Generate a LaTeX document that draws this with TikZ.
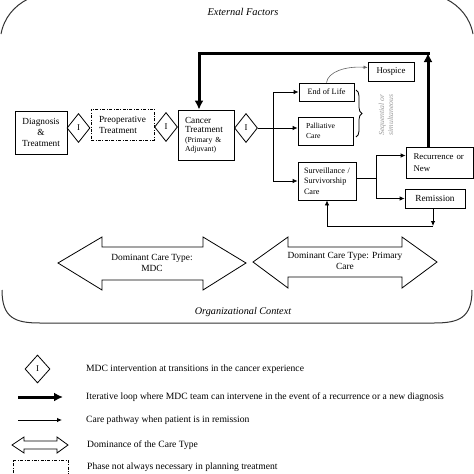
\documentclass[tikz,border=0pt]{standalone}
\usepackage{fontspec}
\setmainfont{Liberation Serif}
\usetikzlibrary{shapes.geometric,arrows.meta,decorations.pathreplacing}
\newcommand{\smtxt}{\fontsize{7.7}{9.5}\selectfont}

\begin{document}
\begin{tikzpicture}[x=1pt,y=-1pt]
\tikzstyle{box}=[draw, line width=0.8pt, inner sep=0pt, font=\fontsize{9.3}{11}\selectfont]
\tikzstyle{inter}=[diamond, draw, line width=0.8pt, minimum width=23pt, minimum height=29pt, inner sep=0pt, font=\fontsize{8.8}{9}\selectfont]
\tikzstyle{phase}=[box, dash pattern=on 3pt off 1.5pt on 0.8pt off 1.5pt]
\tikzstyle{pathway}=[line width=0.8pt, -{Latex[length=5pt,width=4.5pt]}]
\tikzstyle{iterloop}=[line width=3pt, -{Latex[length=9pt,width=9pt]}]
\tikzstyle{care}=[draw, line width=0.8pt, line join=miter]
\tikzstyle{frame}=[draw=black!80, line width=1pt]
\tikzstyle{legtext}=[anchor=west, inner sep=0pt, font=\fontsize{9.6}{11}\selectfont]

\useasboundingbox (0,0) rectangle (474,474);

\node[font=\itshape\fontsize{10.4}{12}\selectfont] (ext) at (243,12) {External Factors};
\node[font=\itshape\fontsize{10.2}{12}\selectfont] (org) at (243,312) {Organizational Context};
\draw[frame] (1,34) .. controls (4,18) and (14,6) .. (28,-1);
\draw[frame] (473,34) .. controls (470,18) and (460,6) .. (446,-1);
\draw[frame] (2,290) .. controls (2,318) and (15,323) .. (40,323) -- (434,323) .. controls (459,323) and (472,318) .. (472,290);

\node[box, minimum width=52pt, minimum height=43pt, align=center] (diag) at (41,132.5) {Diagnosis\\\&\\Treatment};
\node[inter] (i1) at (78.5,128) {I};
\node[phase, minimum width=63pt, minimum height=31pt, text width=47pt, align=left] (pre) at (122.5,124.5) {Preoperative\\Treatment};
\node[inter] (i2) at (166,127) {I};
\node[box, minimum width=56pt, minimum height=50pt, text width=42pt, align=left, font=\fontsize{9.3}{9.5}\selectfont] (ct) at (206,135) {Cancer\\Treatment\\{\smtxt(Primary \&}\\{\smtxt Adjuvant)}};
\node[inter] (i3) at (246,128) {I};
\node[box, minimum width=55pt, minimum height=18pt, font=\fontsize{8.2}{9}\selectfont] (eol) at (326.5,92) {End of Life};
\node[box, minimum width=55pt, minimum height=28pt, text width=39pt, align=left, font=\fontsize{7.7}{10.5}\selectfont] (pal) at (325.5,131) {Palliative\\Care};
\node[box, minimum width=58pt, minimum height=38pt, text width=46pt, align=left, font=\fontsize{8.2}{10.5}\selectfont] (surv) at (327,181) {Surveillance /\\Survivorship\\Care};
\node[box, minimum width=46pt, minimum height=19pt, font=\fontsize{8.8}{9}\selectfont] (hosp) at (391,71.5) {Hospice};
\node[box, minimum width=67pt, minimum height=31pt, text width=52pt, align=left, font=\fontsize{8.8}{11.5}\selectfont] (rec) at (439.5,162.5) {Recurrence or\\New};
\node[box, minimum width=60pt, minimum height=19pt, font=\fontsize{9.3}{10}\selectfont] (rem) at (435,198.5) {Remission};
\node[rotate=90, text=black!40, align=center, font=\itshape\fontsize{7.7}{9}\selectfont] (seq) at (386,115) {Sequential or\\simultaneous};

\coordinate (br) at (273,128);
\coordinate (sp) at (376,178);
\coordinate (lt) at (199,53);
\coordinate (rt) at (428,53);
\coordinate (rb) at (433,226);
\coordinate (lb) at (327,226);

\draw[pathway] (i3.east) -- (i3.east -| pal.west);
\draw[pathway] (br) |- (eol.west);
\draw[pathway] (br) |- (surv.west);
\draw[line width=0.8pt] (surv.east |- sp) -- (sp);
\draw[pathway] (sp) |- ([yshift=7pt]rec.west);
\draw[pathway] (sp) |- (rem.west);
\draw[black!60, line width=0.6pt, -{Latex[length=4pt,width=3.5pt]}] (eol.north) .. controls (328,72) and (345,66) .. ([yshift=4pt]hosp.west);
\draw[line width=0.8pt, decorate, decoration={brace, amplitude=6pt}] (356,90) -- (356,137);
\draw[iterloop] (rt |- rec.north) -- (rt);
\draw[iterloop] ([xshift=1.5pt]rt) -- (lt) -- (lt |- ct.north);
\draw[pathway] (rb |- rem.south) -- (rb);
\draw[pathway] (rb) -- (lb) -- (lb |- surv.south);

\draw[care] (58,263) -- (102,237) -- (102,247) -- (203,247) -- (203,237) -- (246,263) -- (203,290) -- (203,280) -- (102,280) -- (102,290) -- cycle;
\node[font=\fontsize{9.4}{11.5}\selectfont, align=center] (mdc) at (152,263) {Dominant Care Type:\\MDC};
\draw[care] (253,262) -- (288,237) -- (288,247) -- (402,247) -- (402,237) -- (437,262) -- (402,288) -- (402,277) -- (288,277) -- (288,288) -- cycle;
\node[font=\fontsize{9.4}{11.5}\selectfont, align=center] (prim) at (345,261) {Dominant Care Type: Primary\\Care};

\node[inter, minimum width=25pt, minimum height=28pt] (li) at (37.5,369) {I};
\node[legtext] (t1) at (86,369) {MDC intervention at transitions in the cancer experience};
\coordinate (ka) at (18,397);
\coordinate (kb) at (63,397);
\draw[iterloop] (ka) -- (kb);
\node[legtext] (t2) at (86,397) {Iterative loop where MDC team can intervene in the event of a recurrence or a new diagnosis};
\coordinate (kc) at (18,420);
\coordinate (kd) at (62,420);
\draw[pathway] (kc) -- (kd);
\node[legtext] (t3) at (86,420) {Care pathway when patient is in remission};
\draw[care] (12,445) -- (24,437) -- (24,441) -- (57,441) -- (57,437) -- (68,445) -- (57,453) -- (57,449) -- (24,449) -- (24,453) -- cycle;
\node[legtext] (t4) at (87,445) {Dominance of the Care Type};
\draw[phase] (13,480) -- (13,460) -- (68,460) -- (68,480);
\node[legtext] (t5) at (87,467) {Phase not always necessary in planning treatment};
\end{tikzpicture}
\end{document}
